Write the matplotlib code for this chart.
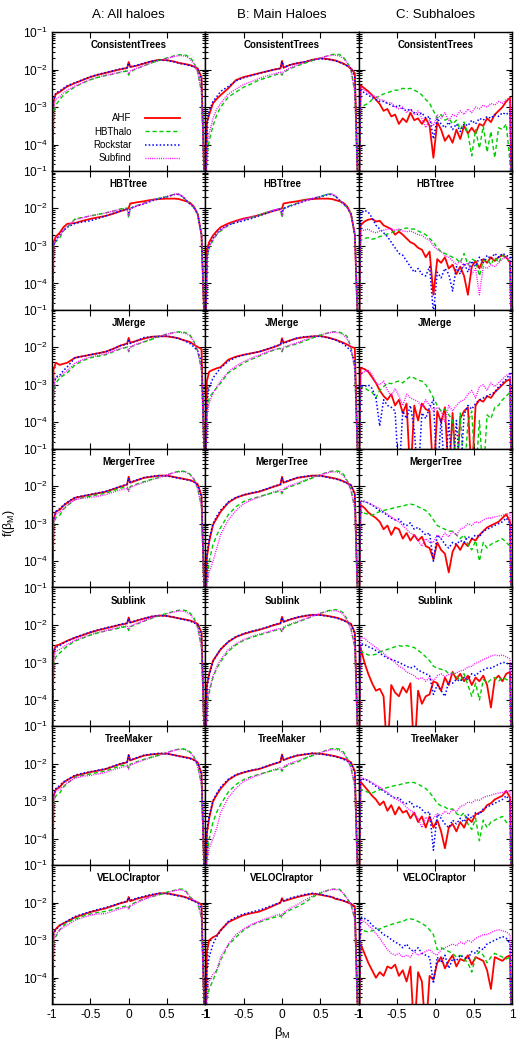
import numpy as np
import matplotlib
matplotlib.use("Agg")
import matplotlib.pyplot as plt
from matplotlib.ticker import LogLocator, FixedLocator, NullFormatter, FixedFormatter

# ---------------- data (values are log10 f(beta_M)) ----------------
col_titles = ["A: All haloes", "B: Main Haloes", "C: Subhaloes"]
row_names = ["ConsistentTrees", "HBTtree", "JMerge", "MergerTree", "Sublink", "TreeMaker", "VELOCIraptor"]
series_names = ["AHF", "HBThalo", "Rockstar", "Subfind"]
x_ticks = [-1, -0.5, 0, 0.5, 1]
x_tick_labels = ["-1", "-0.5", "0", "0.5", "1"]
y_ticks = [1e-4, 1e-3, 1e-2, 1e-1]
y_tick_labels = [r"$10^{-4}$", r"$10^{-3}$", r"$10^{-2}$", r"$10^{-1}$"]

xAB = [-0.995, -0.98, -0.95, -0.9, -0.85, -0.8, -0.7, -0.6, -0.5, -0.4, -0.3, -0.2, -0.1, -0.02, 0.0,
       0.02, 0.1, 0.2, 0.3, 0.4, 0.5, 0.6, 0.65, 0.7, 0.75, 0.8, 0.85, 0.9, 0.95, 0.995]

xC = [-0.995, -0.975, -0.925, -0.875, -0.825, -0.775, -0.725, -0.675, -0.625, -0.575, -0.525,
      -0.475, -0.425, -0.375, -0.325, -0.275, -0.225, -0.175, -0.125, -0.075, -0.025,
      0.025, 0.075, 0.125, 0.175, 0.225, 0.275, 0.325, 0.375, 0.425, 0.475,
      0.525, 0.575, 0.625, 0.675, 0.725, 0.775, 0.825, 0.875, 0.925, 0.975, 0.995]

# Column A: all haloes
A_AHF = [
    [-5.5, -2.85, -2.65, -2.6, -2.52, -2.45, -2.36, -2.28, -2.2, -2.14, -2.09, -2.04, -1.99, -1.96, -1.8, -1.93, -1.9, -1.84, -1.78, -1.74, -1.75, -1.79, -1.82, -1.84, -1.86, -1.88, -1.92, -1.97, -2.2, -5.5],
    [-5.5, -2.9, -2.75, -2.65, -2.5, -2.41, -2.39, -2.33, -2.28, -2.24, -2.2, -2.14, -2.07, -2.02, -1.99, -1.87, -1.84, -1.81, -1.77, -1.75, -1.74, -1.74, -1.75, -1.78, -1.81, -1.85, -1.95, -2.15, -2.7, -5.5],
    [-5.5, -2.6, -2.41, -2.47, -2.44, -2.41, -2.28, -2.24, -2.2, -2.16, -2.12, -2.04, -1.95, -1.9, -1.75, -1.88, -1.83, -1.77, -1.72, -1.71, -1.71, -1.74, -1.76, -1.8, -1.83, -1.86, -1.93, -1.99, -2.05, -5.5],
    [-5.5, -2.9, -2.68, -2.63, -2.52, -2.44, -2.31, -2.27, -2.23, -2.19, -2.15, -2.08, -2.01, -1.96, -1.75, -1.91, -1.85, -1.78, -1.75, -1.72, -1.72, -1.76, -1.78, -1.8, -1.82, -1.84, -1.88, -1.95, -2.25, -5.5],
    [-5.5, -2.7, -2.55, -2.52, -2.47, -2.42, -2.34, -2.27, -2.2, -2.14, -2.09, -2.04, -1.99, -1.96, -1.8, -1.94, -1.89, -1.83, -1.78, -1.75, -1.76, -1.8, -1.82, -1.84, -1.86, -1.88, -1.92, -1.97, -2.2, -5.5],
    [-5.5, -2.85, -2.68, -2.62, -2.5, -2.43, -2.32, -2.27, -2.22, -2.18, -2.14, -2.07, -2.0, -1.96, -1.76, -1.91, -1.85, -1.78, -1.75, -1.73, -1.73, -1.77, -1.79, -1.81, -1.83, -1.85, -1.89, -1.96, -2.25, -5.5],
    [-5.5, -2.8, -2.7, -2.6, -2.55, -2.5, -2.39, -2.32, -2.25, -2.2, -2.15, -2.08, -2.01, -1.97, -1.85, -1.96, -1.9, -1.85, -1.8, -1.75, -1.75, -1.79, -1.81, -1.83, -1.86, -1.9, -1.95, -1.99, -2.05, -5.5],
]
A_HBThalo = [
    [-5.5, -3.2, -2.95, -2.8, -2.68, -2.6, -2.46, -2.36, -2.27, -2.21, -2.16, -2.12, -2.07, -2.04, -2.15, -2.06, -1.98, -1.9, -1.82, -1.75, -1.69, -1.63, -1.61, -1.6, -1.62, -1.68, -1.8, -2.05, -2.6, -5.5],
    [-5.5, -3.0, -2.88, -2.79, -2.6, -2.5, -2.28, -2.24, -2.2, -2.16, -2.12, -2.07, -2.01, -1.99, -2.25, -2.0, -1.93, -1.86, -1.78, -1.73, -1.69, -1.62, -1.62, -1.68, -1.78, -1.88, -1.98, -2.15, -2.7, -5.5],
    [-5.5, -3.2, -2.95, -2.82, -2.75, -2.68, -2.47, -2.36, -2.28, -2.24, -2.2, -2.12, -2.04, -2.0, -2.12, -2.0, -1.93, -1.86, -1.79, -1.71, -1.65, -1.6, -1.59, -1.59, -1.62, -1.67, -1.84, -2.1, -2.6, -5.5],
    [-5.5, -3.05, -2.84, -2.78, -2.62, -2.52, -2.36, -2.31, -2.27, -2.23, -2.19, -2.12, -2.05, -2.02, -2.12, -2.01, -1.95, -1.88, -1.82, -1.77, -1.7, -1.63, -1.61, -1.6, -1.62, -1.68, -1.8, -2.05, -2.55, -5.5],
    [-5.5, -3.05, -2.85, -2.75, -2.65, -2.56, -2.43, -2.35, -2.27, -2.21, -2.16, -2.12, -2.07, -2.04, -2.15, -2.05, -1.98, -1.9, -1.82, -1.75, -1.69, -1.63, -1.61, -1.6, -1.62, -1.68, -1.8, -2.05, -2.6, -5.5],
    [-5.5, -3.05, -2.85, -2.78, -2.62, -2.52, -2.36, -2.31, -2.27, -2.23, -2.19, -2.12, -2.05, -2.02, -2.12, -2.01, -1.95, -1.88, -1.82, -1.77, -1.7, -1.63, -1.61, -1.6, -1.62, -1.68, -1.8, -2.05, -2.55, -5.5],
    [-5.5, -3.0, -2.9, -2.73, -2.62, -2.52, -2.44, -2.36, -2.3, -2.26, -2.23, -2.18, -2.12, -2.08, -2.14, -2.06, -1.98, -1.9, -1.84, -1.79, -1.72, -1.67, -1.64, -1.64, -1.7, -1.85, -1.93, -2.0, -2.4, -5.5],
]
A_Rockstar = [
    [-5.5, -2.8, -2.62, -2.57, -2.5, -2.43, -2.35, -2.27, -2.19, -2.13, -2.08, -2.03, -1.98, -1.95, -1.82, -1.93, -1.89, -1.83, -1.78, -1.75, -1.76, -1.8, -1.83, -1.85, -1.87, -1.9, -1.93, -1.98, -2.3, -5.5],
    [-5.5, -3.0, -2.85, -2.7, -2.58, -2.5, -2.4, -2.36, -2.33, -2.27, -2.2, -2.13, -2.06, -2.02, -2.12, -2.0, -1.94, -1.88, -1.8, -1.74, -1.69, -1.63, -1.63, -1.68, -1.78, -1.88, -1.97, -2.15, -2.7, -5.5],
    [-5.5, -3.0, -2.79, -2.75, -2.62, -2.52, -2.28, -2.24, -2.2, -2.16, -2.12, -2.04, -1.95, -1.92, -1.82, -1.9, -1.83, -1.74, -1.72, -1.71, -1.7, -1.74, -1.77, -1.8, -1.85, -1.9, -1.99, -2.1, -2.4, -5.5],
    [-5.5, -2.9, -2.68, -2.6, -2.5, -2.43, -2.3, -2.26, -2.22, -2.18, -2.14, -2.07, -2.0, -1.95, -1.78, -1.9, -1.84, -1.77, -1.74, -1.72, -1.73, -1.77, -1.79, -1.81, -1.83, -1.85, -1.89, -1.97, -2.3, -5.5],
    [-5.5, -2.75, -2.6, -2.55, -2.48, -2.43, -2.33, -2.26, -2.19, -2.13, -2.08, -2.03, -1.98, -1.95, -1.82, -1.93, -1.88, -1.83, -1.77, -1.75, -1.76, -1.8, -1.83, -1.85, -1.87, -1.9, -1.94, -1.99, -2.3, -5.5],
    [-5.5, -2.85, -2.66, -2.58, -2.48, -2.42, -2.3, -2.25, -2.21, -2.17, -2.13, -2.06, -1.99, -1.95, -1.78, -1.9, -1.84, -1.77, -1.74, -1.72, -1.73, -1.77, -1.8, -1.82, -1.84, -1.86, -1.9, -1.98, -2.3, -5.5],
    [-5.5, -2.85, -2.72, -2.62, -2.55, -2.48, -2.37, -2.3, -2.24, -2.18, -2.13, -2.07, -2.0, -1.96, -1.86, -1.94, -1.88, -1.83, -1.78, -1.75, -1.76, -1.8, -1.82, -1.84, -1.87, -1.91, -1.96, -2.0, -2.15, -5.5],
]
A_Subfind = [
    [-5.5, -3.0, -2.8, -2.72, -2.62, -2.55, -2.44, -2.35, -2.27, -2.2, -2.15, -2.11, -2.06, -2.03, -2.12, -2.04, -1.97, -1.9, -1.82, -1.76, -1.7, -1.65, -1.63, -1.63, -1.65, -1.72, -1.85, -2.08, -2.6, -5.5],
    [-5.5, -2.95, -2.82, -2.72, -2.58, -2.48, -2.3, -2.25, -2.2, -2.16, -2.12, -2.07, -2.02, -2.0, -2.22, -2.01, -1.94, -1.87, -1.79, -1.73, -1.68, -1.62, -1.62, -1.67, -1.77, -1.88, -1.98, -2.15, -2.7, -5.5],
    [-5.5, -3.1, -2.82, -2.78, -2.7, -2.62, -2.42, -2.33, -2.26, -2.22, -2.17, -2.1, -2.03, -1.99, -2.1, -1.99, -1.92, -1.85, -1.78, -1.71, -1.65, -1.61, -1.6, -1.61, -1.64, -1.7, -1.86, -2.1, -2.6, -5.5],
    [-5.5, -2.95, -2.75, -2.7, -2.6, -2.5, -2.36, -2.32, -2.3, -2.27, -2.23, -2.16, -2.1, -2.06, -2.14, -2.04, -1.97, -1.9, -1.83, -1.77, -1.7, -1.64, -1.62, -1.61, -1.63, -1.7, -1.82, -2.07, -2.55, -5.5],
    [-5.5, -2.9, -2.7, -2.65, -2.58, -2.52, -2.4, -2.33, -2.26, -2.2, -2.15, -2.1, -2.05, -2.02, -2.12, -2.03, -1.96, -1.89, -1.81, -1.75, -1.7, -1.65, -1.63, -1.63, -1.65, -1.72, -1.85, -2.08, -2.6, -5.5],
    [-5.5, -2.9, -2.72, -2.68, -2.6, -2.5, -2.38, -2.33, -2.31, -2.27, -2.23, -2.16, -2.1, -2.06, -2.14, -2.04, -1.97, -1.9, -1.83, -1.77, -1.7, -1.64, -1.62, -1.61, -1.63, -1.7, -1.82, -2.07, -2.55, -5.5],
    [-5.5, -2.95, -2.85, -2.72, -2.65, -2.6, -2.47, -2.4, -2.33, -2.3, -2.29, -2.22, -2.15, -2.12, -2.18, -2.1, -2.0, -1.91, -1.84, -1.78, -1.73, -1.68, -1.66, -1.66, -1.72, -1.85, -1.93, -2.0, -2.4, -5.5],
]

# Column B: main haloes
B_AHF = [
    [-5.5, -3.4, -3.2, -2.9, -2.78, -2.68, -2.5, -2.28, -2.2, -2.15, -2.1, -2.05, -2.0, -1.97, -1.77, -1.95, -1.88, -1.83, -1.8, -1.74, -1.7, -1.72, -1.74, -1.76, -1.8, -1.84, -1.9, -1.97, -2.1, -5.5],
    [-5.5, -3.1, -2.9, -2.72, -2.6, -2.5, -2.4, -2.33, -2.27, -2.23, -2.18, -2.12, -2.06, -2.02, -2.0, -1.87, -1.84, -1.81, -1.77, -1.75, -1.74, -1.74, -1.75, -1.78, -1.81, -1.85, -1.95, -2.15, -2.7, -5.5],
    [-5.5, -2.9, -2.65, -2.6, -2.56, -2.53, -2.33, -2.25, -2.2, -2.16, -2.12, -2.06, -1.99, -1.93, -1.76, -1.88, -1.82, -1.76, -1.73, -1.71, -1.7, -1.74, -1.77, -1.8, -1.84, -1.88, -1.93, -1.99, -2.02, -5.5],
    [-5.5, -3.9, -3.48, -3.03, -2.85, -2.68, -2.44, -2.31, -2.24, -2.19, -2.15, -2.08, -2.01, -1.96, -1.75, -1.91, -1.85, -1.78, -1.75, -1.72, -1.72, -1.76, -1.78, -1.8, -1.83, -1.87, -1.92, -1.97, -2.2, -5.5],
    [-5.5, -3.6, -3.3, -2.95, -2.8, -2.65, -2.45, -2.32, -2.24, -2.18, -2.13, -2.07, -2.0, -1.96, -1.78, -1.92, -1.86, -1.8, -1.76, -1.73, -1.73, -1.76, -1.78, -1.8, -1.83, -1.87, -1.92, -1.97, -2.2, -5.5],
    [-5.5, -3.85, -3.45, -3.0, -2.82, -2.66, -2.43, -2.3, -2.23, -2.18, -2.14, -2.07, -2.0, -1.95, -1.75, -1.9, -1.84, -1.78, -1.75, -1.72, -1.73, -1.76, -1.78, -1.8, -1.83, -1.86, -1.9, -1.96, -2.2, -5.5],
    [-5.5, -3.3, -3.0, -2.92, -2.87, -2.73, -2.52, -2.42, -2.33, -2.28, -2.24, -2.16, -2.07, -2.0, -1.88, -1.96, -1.91, -1.85, -1.8, -1.76, -1.79, -1.83, -1.85, -1.9, -1.92, -1.95, -1.99, -2.03, -2.1, -5.5],
]
B_HBThalo = [
    [-5.5, -4.3, -3.9, -3.5, -3.2, -3.0, -2.73, -2.6, -2.47, -2.38, -2.28, -2.22, -2.15, -2.1, -2.15, -2.08, -1.98, -1.9, -1.83, -1.76, -1.7, -1.63, -1.6, -1.59, -1.6, -1.67, -1.8, -2.0, -2.6, -5.5],
    [-5.5, -3.3, -3.05, -2.85, -2.7, -2.6, -2.45, -2.36, -2.3, -2.24, -2.18, -2.11, -2.04, -2.0, -2.25, -2.0, -1.93, -1.86, -1.78, -1.73, -1.69, -1.62, -1.62, -1.68, -1.78, -1.88, -1.98, -2.15, -2.7, -5.5],
    [-5.5, -3.7, -3.35, -3.2, -3.08, -2.95, -2.68, -2.55, -2.42, -2.32, -2.24, -2.15, -2.07, -2.03, -2.12, -2.02, -1.96, -1.91, -1.83, -1.75, -1.68, -1.62, -1.59, -1.59, -1.6, -1.64, -1.71, -2.0, -2.6, -5.5],
    [-5.5, -4.5, -4.0, -3.56, -3.3, -3.1, -2.76, -2.55, -2.41, -2.34, -2.28, -2.22, -2.17, -2.13, -2.2, -2.1, -2.02, -1.95, -1.86, -1.78, -1.7, -1.62, -1.6, -1.59, -1.61, -1.68, -1.85, -2.1, -2.6, -5.5],
    [-5.5, -4.2, -3.8, -3.4, -3.15, -2.98, -2.7, -2.53, -2.41, -2.33, -2.27, -2.21, -2.15, -2.11, -2.2, -2.08, -2.0, -1.93, -1.85, -1.77, -1.69, -1.62, -1.6, -1.59, -1.61, -1.68, -1.85, -2.1, -2.6, -5.5],
    [-5.5, -4.5, -4.0, -3.55, -3.28, -3.08, -2.75, -2.55, -2.42, -2.34, -2.28, -2.22, -2.17, -2.13, -2.2, -2.1, -2.02, -1.95, -1.86, -1.78, -1.7, -1.62, -1.6, -1.59, -1.61, -1.68, -1.85, -2.1, -2.6, -5.5],
    [-5.5, -4.6, -4.3, -4.07, -3.8, -3.53, -3.13, -2.92, -2.73, -2.6, -2.52, -2.45, -2.39, -2.35, -2.4, -2.3, -2.2, -2.11, -2.0, -1.85, -1.75, -1.67, -1.64, -1.64, -1.64, -1.75, -1.89, -2.05, -2.45, -5.5],
]
B_Rockstar = [
    [-5.5, -3.5, -3.1, -2.85, -2.72, -2.58, -2.45, -2.3, -2.22, -2.16, -2.1, -2.05, -2.0, -1.97, -1.78, -1.95, -1.88, -1.83, -1.79, -1.74, -1.71, -1.73, -1.75, -1.77, -1.81, -1.85, -1.9, -1.98, -2.2, -5.5],
    [-5.5, -3.3, -3.0, -2.8, -2.66, -2.56, -2.44, -2.38, -2.33, -2.27, -2.2, -2.13, -2.06, -2.02, -2.12, -2.0, -1.94, -1.88, -1.8, -1.74, -1.69, -1.63, -1.63, -1.68, -1.78, -1.88, -1.97, -2.15, -2.7, -5.5],
    [-5.5, -3.4, -3.08, -2.82, -2.68, -2.55, -2.37, -2.27, -2.21, -2.16, -2.12, -2.05, -1.98, -1.93, -1.8, -1.9, -1.83, -1.75, -1.72, -1.71, -1.71, -1.75, -1.78, -1.81, -1.86, -1.91, -2.0, -2.1, -2.4, -5.5],
    [-5.5, -3.8, -3.4, -3.0, -2.8, -2.64, -2.42, -2.3, -2.23, -2.18, -2.14, -2.07, -2.0, -1.95, -1.78, -1.9, -1.84, -1.77, -1.74, -1.72, -1.73, -1.77, -1.79, -1.81, -1.84, -1.88, -1.93, -1.98, -2.25, -5.5],
    [-5.5, -3.7, -3.35, -2.98, -2.8, -2.64, -2.44, -2.31, -2.23, -2.17, -2.12, -2.06, -1.99, -1.95, -1.8, -1.91, -1.85, -1.79, -1.75, -1.73, -1.74, -1.77, -1.79, -1.81, -1.84, -1.88, -1.93, -1.98, -2.25, -5.5],
    [-5.5, -3.75, -3.38, -2.98, -2.78, -2.62, -2.41, -2.29, -2.22, -2.17, -2.13, -2.06, -1.99, -1.94, -1.78, -1.89, -1.83, -1.77, -1.74, -1.72, -1.74, -1.77, -1.79, -1.81, -1.84, -1.88, -1.93, -1.98, -2.25, -5.5],
    [-5.5, -3.8, -3.45, -3.1, -2.9, -2.75, -2.5, -2.38, -2.3, -2.25, -2.2, -2.13, -2.05, -1.99, -1.9, -1.95, -1.88, -1.83, -1.78, -1.75, -1.78, -1.82, -1.85, -1.88, -1.91, -1.94, -1.98, -2.02, -2.15, -5.5],
]
B_Subfind = [
    [-5.5, -4.0, -3.7, -3.3, -3.05, -2.9, -2.65, -2.52, -2.4, -2.32, -2.24, -2.17, -2.11, -2.07, -2.12, -2.05, -1.96, -1.88, -1.81, -1.75, -1.69, -1.64, -1.62, -1.62, -1.64, -1.7, -1.83, -2.03, -2.6, -5.5],
    [-5.5, -3.25, -3.0, -2.82, -2.68, -2.58, -2.43, -2.35, -2.29, -2.23, -2.17, -2.1, -2.04, -2.01, -2.22, -2.01, -1.94, -1.87, -1.79, -1.73, -1.68, -1.62, -1.62, -1.67, -1.77, -1.88, -1.98, -2.15, -2.7, -5.5],
    [-5.5, -3.8, -3.5, -3.22, -3.05, -2.9, -2.65, -2.5, -2.38, -2.29, -2.21, -2.13, -2.06, -2.02, -2.1, -2.0, -1.94, -1.88, -1.8, -1.74, -1.67, -1.62, -1.6, -1.6, -1.62, -1.67, -1.78, -2.02, -2.6, -5.5],
    [-5.5, -4.6, -4.3, -4.0, -3.65, -3.29, -2.9, -2.65, -2.47, -2.37, -2.3, -2.22, -2.15, -2.1, -2.17, -2.07, -1.99, -1.92, -1.84, -1.77, -1.7, -1.64, -1.62, -1.62, -1.65, -1.72, -1.88, -2.12, -2.6, -5.5],
    [-5.5, -4.1, -3.75, -3.35, -3.1, -2.92, -2.65, -2.5, -2.39, -2.31, -2.25, -2.19, -2.13, -2.09, -2.16, -2.05, -1.98, -1.91, -1.83, -1.76, -1.69, -1.63, -1.62, -1.62, -1.65, -1.72, -1.88, -2.12, -2.6, -5.5],
    [-5.5, -4.6, -4.25, -4.0, -3.7, -3.3, -2.9, -2.65, -2.47, -2.37, -2.3, -2.22, -2.15, -2.1, -2.17, -2.07, -1.99, -1.92, -1.84, -1.77, -1.7, -1.64, -1.62, -1.62, -1.65, -1.72, -1.88, -2.12, -2.6, -5.5],
    [-5.5, -4.4, -4.1, -3.9, -3.8, -3.45, -3.1, -2.85, -2.7, -2.58, -2.5, -2.42, -2.35, -2.3, -2.36, -2.26, -2.15, -2.05, -1.93, -1.82, -1.73, -1.67, -1.65, -1.65, -1.66, -1.75, -1.89, -2.05, -2.45, -5.5],
]

# Column C: subhaloes
C_AHF = [
    [-5.5, -2.42, -2.5, -2.58, -2.68, -2.8, -2.92, -3.1, -3.05, -3.25, -3.2, -3.45, -3.3, -3.4, -3.15, -3.35, -3.3, -3.45, -3.3, -3.5, -4.35, -3.4, -3.6, -3.9, -3.75, -3.95, -3.6, -3.85, -3.5, -3.7, -3.55, -3.7, -3.45, -3.5, -3.3, -3.4, -3.2, -3.1, -3.0, -2.85, -2.75, -5.5],
    [-5.5, -2.45, -2.35, -2.3, -2.28, -2.35, -2.33, -2.45, -2.5, -2.55, -2.7, -2.62, -2.7, -2.8, -2.9, -2.95, -3.05, -3.1, -3.3, -3.15, -4.3, -3.35, -3.45, -3.3, -3.6, -3.5, -3.75, -3.55, -3.8, -4.3, -3.55, -3.4, -3.6, -3.35, -3.45, -3.3, -3.4, -3.3, -3.25, -3.3, -3.45, -5.5],
    [-5.5, -2.55, -2.58, -2.65, -2.8, -2.95, -3.15, -3.3, -3.4, -3.25, -3.55, -3.4, -3.75, -3.5, -5.5, -3.55, -3.95, -3.5, -3.65, -3.7, -5.5, -3.7, -4.0, -3.6, -5.5, -3.75, -5.5, -3.9, -3.7, -3.6, -5.5, -3.55, -3.4, -3.45, -3.3, -3.35, -3.2, -3.1, -3.0, -2.9, -2.85, -5.5],
    [-5.5, -2.5, -2.58, -2.7, -2.78, -2.85, -2.95, -3.15, -3.05, -3.3, -3.1, -3.15, -3.4, -3.25, -3.45, -3.3, -3.45, -3.35, -3.6, -3.65, -3.95, -3.5, -3.7, -3.8, -4.3, -3.75, -3.55, -3.7, -3.5, -3.6, -3.4, -3.45, -3.3, -3.2, -3.1, -3.05, -3.0, -2.95, -2.85, -2.75, -2.95, -5.5],
    [-5.5, -2.6, -3.0, -3.3, -3.55, -3.75, -3.7, -3.9, -5.5, -3.6, -3.8, -3.9, -3.65, -3.8, -3.55, -5.5, -3.75, -4.1, -3.9, -3.85, -3.5, -3.55, -3.75, -3.4, -3.6, -3.25, -3.45, -3.3, -3.5, -3.35, -3.6, -3.4, -3.5, -3.35, -3.6, -4.2, -3.45, -3.35, -3.5, -3.3, -3.25, -5.5],
    [-5.5, -2.48, -2.6, -2.72, -2.85, -2.95, -3.1, -3.0, -3.25, -3.1, -3.35, -3.15, -3.3, -3.25, -3.45, -3.3, -3.55, -3.4, -3.7, -3.4, -3.7, -3.5, -3.8, -4.25, -3.7, -3.6, -3.8, -3.55, -3.7, -3.45, -3.55, -3.35, -3.3, -3.25, -3.1, -3.05, -2.95, -2.9, -2.85, -2.72, -2.9, -5.5],
    [-5.5, -3.1, -3.35, -3.6, -3.8, -4.0, -3.85, -3.95, -3.7, -3.75, -3.65, -3.95, -3.8, -4.1, -3.7, -5.5, -3.85, -4.1, -5.5, -3.95, -4.05, -3.6, -3.45, -3.75, -3.55, -3.4, -3.7, -3.5, -3.55, -3.4, -3.65, -3.45, -3.5, -3.55, -3.8, -4.3, -3.45, -3.5, -3.55, -3.45, -3.4, -5.5],
]
C_HBThalo = [
    [-5.5, -3.0, -2.95, -2.9, -2.8, -2.75, -2.7, -2.65, -2.62, -2.58, -2.55, -2.55, -2.5, -2.52, -2.5, -2.55, -2.6, -2.68, -2.8, -2.9, -3.1, -3.3, -3.2, -3.35, -3.3, -3.45, -3.35, -3.6, -3.4, -3.7, -4.3, -3.6, -4.1, -3.5, -4.2, -3.65, -4.35, -3.55, -3.6, -3.45, -4.5, -5.5],
    [-5.5, -2.85, -2.8, -2.78, -2.82, -2.8, -2.75, -2.72, -2.68, -2.65, -2.6, -2.58, -2.55, -2.52, -2.55, -2.55, -2.6, -2.65, -2.7, -2.8, -2.9, -3.05, -3.15, -3.2, -3.25, -3.3, -3.35, -3.45, -3.2, -3.5, -3.35, -3.4, -3.8, -3.4, -3.35, -3.5, -3.3, -3.45, -3.25, -3.35, -3.4, -5.5],
    [-5.5, -3.05, -3.08, -3.15, -3.2, -3.35, -3.15, -3.05, -2.95, -2.97, -2.93, -2.9, -2.95, -2.85, -2.78, -2.82, -2.88, -2.9, -3.0, -3.15, -3.35, -3.55, -3.7, -3.65, -3.8, -3.95, -5.5, -3.75, -5.5, -4.0, -3.7, -5.5, -3.95, -5.5, -3.8, -3.9, -3.6, -3.55, -3.4, -3.3, -3.2, -5.5],
    [-5.5, -2.65, -2.72, -2.75, -2.78, -2.72, -2.68, -2.65, -2.62, -2.6, -2.57, -2.55, -2.53, -2.5, -2.48, -2.5, -2.55, -2.6, -2.65, -2.75, -2.9, -3.05, -3.1, -3.15, -3.2, -3.2, -3.3, -3.4, -3.3, -3.55, -3.7, -3.45, -4.0, -3.5, -3.65, -3.55, -3.5, -3.45, -3.4, -3.5, -3.6, -5.5],
    [-5.5, -2.7, -2.75, -2.8, -2.8, -2.78, -2.72, -2.68, -2.65, -2.62, -2.58, -2.55, -2.57, -2.55, -2.58, -2.6, -2.68, -2.75, -2.85, -2.95, -3.1, -3.15, -3.18, -3.2, -3.3, -3.28, -3.35, -3.5, -3.3, -3.6, -3.9, -3.55, -4.0, -3.45, -3.55, -3.45, -3.4, -3.5, -3.4, -3.45, -3.5, -5.5],
    [-5.5, -2.68, -2.72, -2.76, -2.78, -2.73, -2.69, -2.66, -2.63, -2.6, -2.58, -2.56, -2.53, -2.51, -2.49, -2.5, -2.54, -2.6, -2.66, -2.76, -2.9, -3.05, -3.12, -3.15, -3.22, -3.2, -3.32, -3.4, -3.3, -3.6, -3.75, -3.45, -4.05, -3.5, -3.7, -3.55, -3.5, -3.45, -3.4, -3.55, -3.65, -5.5],
    [-5.5, -2.85, -2.75, -2.78, -2.75, -2.72, -2.7, -2.65, -2.62, -2.58, -2.55, -2.52, -2.5, -2.45, -2.43, -2.45, -2.5, -2.55, -2.62, -2.72, -2.85, -3.25, -3.2, -3.25, -3.3, -3.35, -3.45, -3.4, -3.5, -3.6, -3.85, -3.45, -3.3, -3.4, -3.6, -3.45, -3.35, -3.4, -3.45, -3.5, -3.45, -5.5],
]
C_Rockstar = [
    [-5.5, -2.55, -2.62, -2.68, -2.75, -2.8, -2.85, -2.85, -2.9, -2.95, -3.0, -2.95, -3.05, -3.1, -3.05, -3.15, -3.2, -3.15, -3.3, -3.25, -3.85, -3.3, -3.45, -3.55, -3.4, -3.6, -3.45, -3.65, -3.45, -3.5, -3.35, -3.45, -3.3, -3.35, -3.25, -3.3, -3.2, -3.25, -3.15, -3.2, -3.1, -5.5],
    [-5.5, -2.15, -2.05, -2.1, -2.25, -2.45, -2.55, -2.65, -2.75, -2.9, -3.05, -3.2, -3.25, -3.4, -3.55, -3.7, -3.6, -3.75, -3.8, -3.55, -4.8, -3.7, -3.85, -3.6, -3.75, -4.2, -3.55, -3.75, -3.45, -3.7, -3.4, -3.55, -3.3, -3.45, -3.25, -3.35, -3.2, -3.3, -3.2, -3.25, -3.3, -5.5],
    [-5.5, -3.0, -3.05, -3.0, -3.1, -3.35, -4.1, -3.4, -3.55, -3.6, -3.7, -5.5, -3.7, -3.9, -3.55, -4.2, -5.5, -3.75, -3.9, -3.6, -3.4, -5.5, -3.9, -5.5, -3.95, -5.5, -3.95, -5.5, -3.8, -3.55, -3.65, -3.5, -3.4, -3.35, -3.3, -3.25, -3.2, -3.05, -2.95, -2.85, -2.7, -5.5],
    [-5.5, -2.45, -2.4, -2.45, -2.5, -2.58, -2.65, -2.7, -2.78, -2.85, -2.9, -2.88, -3.0, -3.05, -2.98, -3.15, -3.1, -3.2, -3.3, -3.25, -4.0, -3.3, -3.4, -3.55, -3.65, -3.5, -3.55, -3.45, -3.5, -3.35, -3.4, -3.3, -3.35, -3.2, -3.15, -3.1, -3.05, -3.0, -2.95, -2.85, -3.0, -5.5],
    [-5.5, -2.5, -2.52, -2.58, -2.62, -2.68, -2.75, -2.82, -2.88, -2.92, -2.95, -3.0, -3.05, -3.1, -3.15, -3.1, -3.2, -3.25, -3.3, -3.35, -3.85, -3.6, -3.75, -3.9, -3.5, -3.55, -3.45, -3.5, -3.4, -3.45, -3.3, -3.35, -3.25, -3.2, -3.15, -3.15, -3.1, -3.05, -3.0, -3.0, -3.1, -5.5],
    [-5.5, -2.43, -2.4, -2.46, -2.52, -2.6, -2.66, -2.72, -2.8, -2.86, -2.92, -2.9, -3.02, -3.06, -3.0, -3.16, -3.12, -3.22, -3.32, -3.28, -4.3, -3.35, -3.45, -3.6, -3.7, -3.5, -3.6, -3.45, -3.55, -3.35, -3.45, -3.3, -3.35, -3.2, -3.15, -3.1, -3.05, -3.0, -2.95, -2.85, -3.0, -5.5],
    [-5.5, -2.38, -2.42, -2.48, -2.6, -2.68, -2.75, -2.85, -2.9, -2.98, -3.05, -3.1, -3.2, -3.1, -3.25, -3.3, -3.2, -3.35, -3.4, -3.45, -4.15, -3.45, -3.6, -3.4, -3.75, -3.5, -3.55, -3.4, -3.45, -3.5, -3.3, -3.35, -3.2, -3.25, -3.1, -3.05, -3.0, -2.95, -2.9, -2.95, -3.1, -5.5],
]
C_Subfind = [
    [-5.5, -2.45, -2.55, -2.62, -2.7, -2.72, -2.8, -2.82, -2.9, -2.88, -3.0, -3.05, -3.0, -3.15, -3.05, -3.2, -3.1, -3.3, -3.55, -3.35, -3.5, -3.2, -3.3, -3.15, -3.35, -3.2, -3.25, -3.1, -3.2, -3.05, -3.15, -3.0, -3.05, -2.95, -3.0, -2.9, -2.95, -2.85, -2.9, -2.8, -2.75, -5.5],
    [-5.5, -2.6, -2.58, -2.55, -2.62, -2.65, -2.6, -2.58, -2.55, -2.55, -2.58, -2.55, -2.6, -2.62, -2.6, -2.65, -2.7, -2.72, -2.8, -2.85, -3.0, -3.1, -3.15, -3.25, -3.3, -3.4, -3.5, -3.4, -3.55, -3.45, -3.75, -3.6, -4.3, -3.55, -3.6, -3.5, -3.55, -3.45, -3.35, -3.3, -3.4, -5.5],
    [-5.5, -2.7, -2.65, -2.62, -2.72, -2.95, -3.0, -2.9, -3.15, -3.3, -3.1, -3.3, -3.55, -3.25, -3.35, -3.4, -3.45, -3.6, -3.4, -3.55, -3.7, -3.6, -3.7, -4.0, -3.55, -3.7, -3.55, -3.45, -3.4, -3.25, -3.15, -3.35, -3.05, -3.0, -3.15, -2.95, -3.05, -2.95, -2.85, -2.75, -2.7, -5.5],
    [-5.5, -2.38, -2.42, -2.45, -2.5, -2.55, -2.6, -2.68, -2.75, -2.82, -2.9, -2.95, -3.05, -3.15, -3.25, -3.3, -3.45, -3.6, -3.4, -3.5, -3.5, -3.3, -3.4, -3.25, -3.35, -3.2, -3.3, -3.15, -3.1, -3.0, -3.05, -2.95, -2.98, -2.9, -2.85, -2.85, -2.82, -2.8, -2.78, -2.75, -2.72, -5.5],
    [-5.5, -2.33, -2.36, -2.45, -2.52, -2.6, -2.68, -2.75, -2.85, -2.92, -3.0, -3.1, -3.15, -3.25, -3.3, -3.35, -3.45, -3.4, -3.5, -3.4, -3.5, -3.35, -3.3, -3.38, -3.32, -3.3, -3.28, -3.22, -3.2, -3.12, -3.1, -3.02, -2.98, -2.92, -2.88, -2.83, -2.8, -2.82, -2.8, -2.85, -2.9, -5.5],
    [-5.5, -2.36, -2.4, -2.44, -2.5, -2.56, -2.62, -2.7, -2.76, -2.84, -2.92, -2.98, -3.06, -3.16, -3.24, -3.32, -3.46, -3.7, -3.42, -3.52, -3.45, -3.32, -3.38, -3.26, -3.34, -3.22, -3.28, -3.14, -3.1, -3.02, -3.04, -2.96, -2.97, -2.9, -2.86, -2.84, -2.8, -2.78, -2.76, -2.74, -2.72, -5.5],
    [-5.5, -2.45, -2.5, -2.6, -2.7, -2.82, -2.95, -3.1, -3.25, -3.35, -3.4, -3.35, -3.45, -3.4, -3.45, -3.3, -3.4, -3.35, -3.3, -3.25, -3.35, -3.4, -3.25, -3.2, -3.15, -3.1, -3.15, -3.05, -3.1, -3.0, -3.05, -2.95, -2.9, -2.85, -2.85, -2.8, -2.75, -2.72, -2.75, -2.78, -2.85, -5.5],
]

# ---------------- styling ----------------
plt.rcParams["font.family"] = ["Liberation Sans", "DejaVu Sans"]
plt.rcParams["mathtext.fontset"] = "custom"
plt.rcParams["mathtext.rm"] = "Liberation Sans"
plt.rcParams["mathtext.it"] = "Liberation Sans:italic"
plt.rcParams["mathtext.default"] = "regular"

styles = {
    "AHF": dict(color="#ff0000", lw=1.3, ls="-"),
    "HBThalo": dict(color="#00cc00", lw=1.0, ls=(0, (3.0, 2.0))),
    "Rockstar": dict(color="#0000ff", lw=1.1, ls=(0, (1.0, 1.4))),
    "Subfind": dict(color="#ff00ff", lw=1.0, ls=(0, (0.7, 0.9))),
}

data = {
    0: {"AHF": A_AHF, "HBThalo": A_HBThalo, "Rockstar": A_Rockstar, "Subfind": A_Subfind},
    1: {"AHF": B_AHF, "HBThalo": B_HBThalo, "Rockstar": B_Rockstar, "Subfind": B_Subfind},
    2: {"AHF": C_AHF, "HBThalo": C_HBThalo, "Rockstar": C_Rockstar, "Subfind": C_Subfind},
}
xgrid = {0: xAB, 1: xAB, 2: xC}

W, H = 523, 1046
fig = plt.figure(figsize=(W / 100, H / 100), dpi=100)
gs = fig.add_gridspec(7, 3, left=52 / W, right=512 / W, top=1 - 32 / H, bottom=1 - 1004 / H,
                      wspace=0, hspace=0)

legend_handles = []
for r in range(7):
    for c in range(3):
        ax = fig.add_subplot(gs[r, c])
        xs = np.array(xgrid[c])
        for s in series_names:
            vals = data[c][s][r]
            assert len(vals) == len(xs), (c, s, r, len(vals), len(xs))
            ln, = ax.plot(xs, 10.0 ** np.array(vals), label=s, **styles[s])
            if r == 0 and c == 0:
                legend_handles.append(ln)
        ax.set_yscale("log")
        ax.set_xlim(-1, 1)
        ax.set_ylim(2e-5, 1e-1)
        ax.xaxis.set_major_locator(FixedLocator(x_ticks))
        ax.yaxis.set_major_locator(FixedLocator(y_ticks))
        ax.yaxis.set_minor_locator(LogLocator(base=10, subs=np.arange(2, 10)))
        ax.yaxis.set_minor_formatter(NullFormatter())
        ax.tick_params(which="both", direction="in", top=True, right=True, width=0.8, labelsize=8.6)
        ax.tick_params(which="major", length=4.5)
        ax.tick_params(which="minor", length=2.5)
        if c == 0:
            ax.yaxis.set_major_formatter(FixedFormatter(y_tick_labels))
        else:
            ax.set_yticklabels([])
        if r == 6:
            ax.set_xticklabels(x_tick_labels)
        else:
            ax.set_xticklabels([])
        for sp in ax.spines.values():
            sp.set_linewidth(1.0)
        ax.text(0.5, 0.905, row_names[r], transform=ax.transAxes, ha="center", va="center",
                fontsize=7.0, fontweight="bold")
        if r == 0 and c == 0:
            ax.legend(handles=legend_handles, loc="center", bbox_to_anchor=(0.55, 0.235),
                      frameon=False, markerfirst=False, fontsize=7.0, handlelength=3.6,
                      handletextpad=1.4, labelspacing=0.35, borderpad=0.2)
            for t in ax.get_legend().get_texts():
                t.set_ha("right")

col_x = [(52 + 205) / 2, (206 + 358) / 2, (360 + 512) / 2]
for c in range(3):
    fig.text(col_x[c] / W, 1 - 15 / H, col_titles[c], ha="center", va="center", fontsize=9.5)

fig.text(282 / W, 1 - 1033 / H, r"$\beta_M$", ha="center", va="center", fontsize=9.5)
fig.text(9 / W, 0.5, r"f($\beta_M$)", ha="center", va="center", rotation=90, fontsize=9)

fig.savefig("out.png", dpi=100)
